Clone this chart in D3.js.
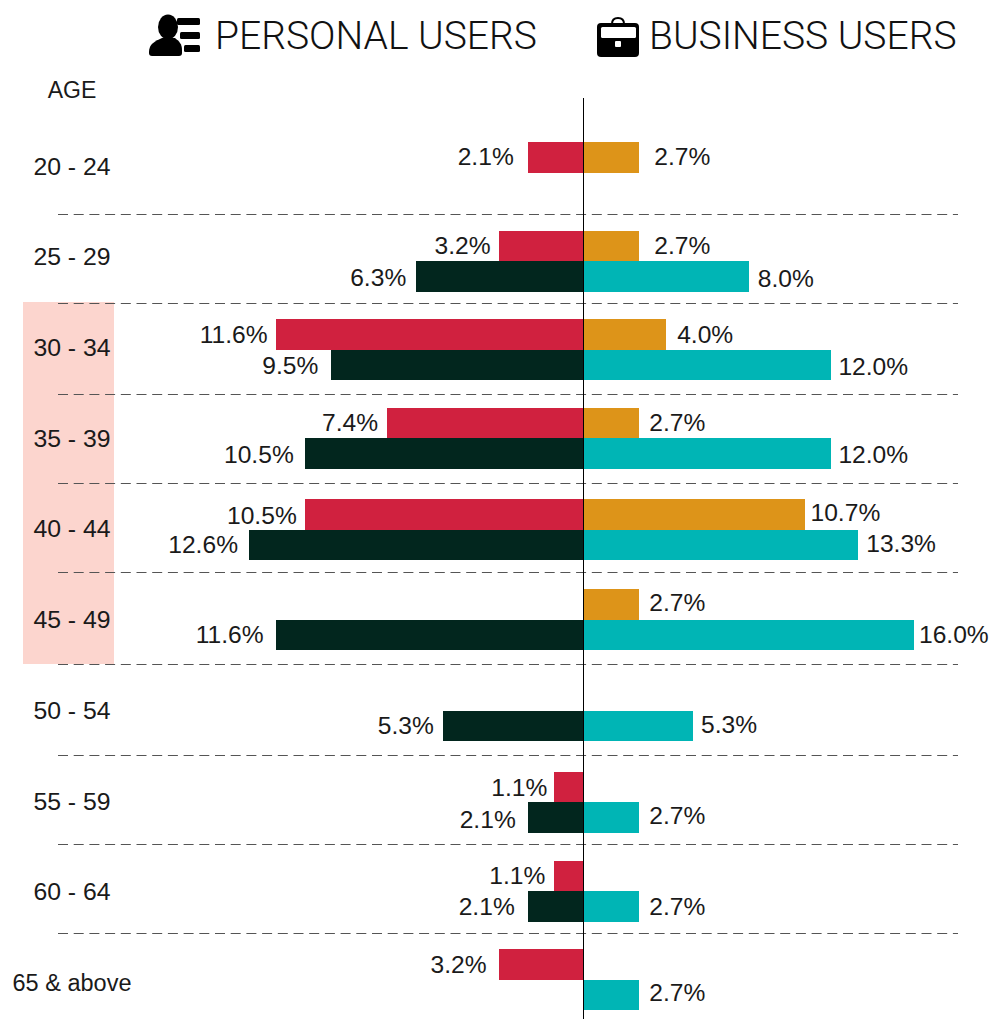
<!DOCTYPE html>
<html>
<head>
<meta charset="utf-8">
<script src="https://cdn.jsdelivr.net/npm/d3@7"></script>
<style>
  html, body { margin: 0; padding: 0; background: #fff; }
  svg { display: block; }
  text { font-family: "Liberation Sans", Arial, sans-serif; fill: #1a1a1a; }
  .title { font-family: Roboto, "Liberation Sans", sans-serif; font-weight: 300; font-size: 39px; fill: #111; }
</style>
</head>
<body>
<svg id="chart" width="991" height="1019"></svg>
<script>
// Data (percent of users)
const ages = ["20 - 24", "25 - 29", "30 - 34", "35 - 39", "40 - 44", "45 - 49", "50 - 54", "55 - 59", "60 - 64", "65 & above"];
const personalTop = [2.1, 3.2, 11.6, 7.4, 10.5, null, null, 1.1, 1.1, 3.2];
const personalBottom = [null, 6.3, 9.5, 10.5, 12.6, 11.6, 5.3, 2.1, 2.1, null];
const businessTop = [2.7, 2.7, 4.0, 2.7, 10.7, 2.7, null, null, null, null];
const businessBottom = [null, 8.0, 12.0, 12.0, 13.3, 16.0, 5.3, 2.7, 2.7, 2.7];
const highlightedAges = ["30 - 34", "35 - 39", "40 - 44", "45 - 49"];

// Layout: the rows are not evenly spaced in the original
const rowTops = [142, 230.8, 319.2, 407.8, 499.2, 589.2, 680.2, 771.8, 860.8, 949.2];
const rowLabelY = [166, 256, 347, 438, 528, 619, 710, 801, 891, 983];
const separatorY = [215, 304, 395, 484, 573, 665, 756, 845, 934];
const barH = 30.5;
const axisX = 583.5;

// label gap / vertical nudge, the labels were placed by hand
const personalTopGap = [14, 8, 8, 9, 8, 0, 0, 7, 9, 12];
const personalTopDy = [0, 0, 0, 0, 1, 0, 0, 1, 0, 0];
const personalBottomGap = [0, 10, 13, 11, 11, 12, 9, 12, 13, 0];
const personalBottomDy = [0, 1.5, 1, 1.5, 0, 0, 0, 2, 0, 0];
const businessTopGap = [15, 15, 11, 10, 6, 10, 0, 0, 0, 0];
const businessTopDy = [0, 0, 0, 0, -1.5, -1.5, 0, 0, 0, 0];
const businessBottomGap = [0, 9, 7, 7, 8, 5, 8, 10, 10, 10];
const businessBottomDy = [0, 2.5, 2, 1.5, -1, 0, -1.5, -1.5, 0, -2];

const colors = { personalTop: "#d0213f", personalBottom: "#02261e", businessTop: "#dd9419", businessBottom: "#00b5b5" };

const svg = d3.select("#chart");

// The two sides use different scales in the original
const xLeft = d3.scaleLinear().domain([0, 12.6]).range([axisX, 249]);
const xRight = d3.scaleLinear().domain([0, 16]).range([axisX, 914]);
const yRow = d3.scaleOrdinal().domain(ages).range(rowTops);
const yLabel = d3.scaleOrdinal().domain(ages).range(rowLabelY);

// Highlight band behind the age labels
const firstH = highlightedAges[0];
const lastH = highlightedAges[highlightedAges.length - 1];
svg.append("rect")
    .attr("x", 23)
    .attr("y", separatorY[ages.indexOf(firstH) - 1] - 2)
    .attr("width", 91)
    .attr("height", separatorY[ages.indexOf(lastH)] - separatorY[ages.indexOf(firstH) - 1] + 1)
    .attr("fill", "#fcd5ce");

// Dashed separators
svg.selectAll(".separator")
    .data(separatorY)
    .enter()
    .append("line")
    .attr("class", "separator")
    .attr("x1", 58)
    .attr("x2", 958)
    .attr("y1", d => d - 0.5)
    .attr("y2", d => d - 0.5)
    .attr("stroke", "#555")
    .attr("stroke-width", 1)
    .attr("stroke-dasharray", "10,5.7");

// One series of bars and labels
function drawSeries(values, gaps, dys, scale, side, row, color) {
    const rows = ages.map((age, i) => ({ age, value: values[i], gap: gaps[i], dy: dys[i] }))
        .filter(d => d.value !== null);
    const rowOffset = row * barH;

    svg.selectAll(null)
        .data(rows)
        .enter()
        .append("rect")
        .attr("x", d => side < 0 ? scale(d.value) : axisX)
        .attr("y", d => yRow(d.age) + rowOffset)
        .attr("width", d => Math.abs(scale(d.value) - axisX))
        .attr("height", barH)
        .attr("fill", color)
        .attr("shape-rendering", "crispEdges");

    svg.selectAll(null)
        .data(rows)
        .enter()
        .append("text")
        .attr("x", d => scale(d.value) + side * d.gap)
        .attr("y", d => yRow(d.age) + rowOffset + barH / 2 + d.dy)
        .attr("dy", "0.33em")
        .attr("text-anchor", side < 0 ? "end" : "start")
        .attr("font-size", 24.6)
        .text(d => d.value.toFixed(1) + "%");
}

drawSeries(personalTop, personalTopGap, personalTopDy, xLeft, -1, 0, colors.personalTop);
drawSeries(personalBottom, personalBottomGap, personalBottomDy, xLeft, -1, 1, colors.personalBottom);
drawSeries(businessTop, businessTopGap, businessTopDy, xRight, 1, 0, colors.businessTop);
drawSeries(businessBottom, businessBottomGap, businessBottomDy, xRight, 1, 1, colors.businessBottom);

// Centre axis
svg.append("line")
    .attr("x1", axisX)
    .attr("x2", axisX)
    .attr("y1", 98)
    .attr("y2", 1019)
    .attr("stroke", "#000")
    .attr("stroke-width", 1);

// Age labels
svg.selectAll(".age")
    .data(ages)
    .enter()
    .append("text")
    .attr("class", "age")
    .attr("x", 72)
    .attr("y", d => yLabel(d))
    .attr("dy", "0.35em")
    .attr("text-anchor", "middle")
    .attr("font-size", d => d === "65 & above" ? 23.5 : 24.8)
    .text(d => d);

svg.append("text")
    .attr("x", 72)
    .attr("y", 90)
    .attr("dy", "0.35em")
    .attr("text-anchor", "middle")
    .attr("font-size", 23)
    .text("AGE");

// Header
svg.append("text").attr("class", "title").attr("x", 215).attr("y", 49).text("PERSONAL USERS");
svg.append("text").attr("class", "title").attr("x", 649).attr("y", 49).text("BUSINESS USERS");

// Person-with-list icon
const person = svg.append("g").attr("fill", "#000");
person.append("ellipse").attr("cx", 168).attr("cy", 27).attr("rx", 10).attr("ry", 12.5);
person.append("path").attr("d", "M149,52 C149,44 155,41 162,38 L175,38 C179,41 182,44 182,50 L182,53 Q182,56 179,56 L152,56 Q149,56 149,53 Z");
person.append("rect").attr("x", 177).attr("y", 18).attr("width", 23).attr("height", 7).attr("rx", 1.5);
person.append("rect").attr("x", 180).attr("y", 32).attr("width", 20).attr("height", 7).attr("rx", 1.5);
person.append("rect").attr("x", 184).attr("y", 45).attr("width", 16).attr("height", 7).attr("rx", 1.5);

// Briefcase icon
const bag = svg.append("g");
bag.append("rect").attr("x", 597).attr("y", 23).attr("width", 42).attr("height", 34).attr("rx", 4).attr("fill", "#000");
bag.append("rect").attr("x", 601).attr("y", 27).attr("width", 35).attr("height", 11).attr("rx", 1.5).attr("fill", "#fff");
bag.append("rect").attr("x", 615).attr("y", 41).attr("width", 6).attr("height", 6).attr("rx", 1).attr("fill", "#fff");
bag.append("path").attr("d", "M612,24 Q612,18 618,18 Q624,18 624,24").attr("fill", "none").attr("stroke", "#000").attr("stroke-width", 2);
</script>
</body>
</html>
